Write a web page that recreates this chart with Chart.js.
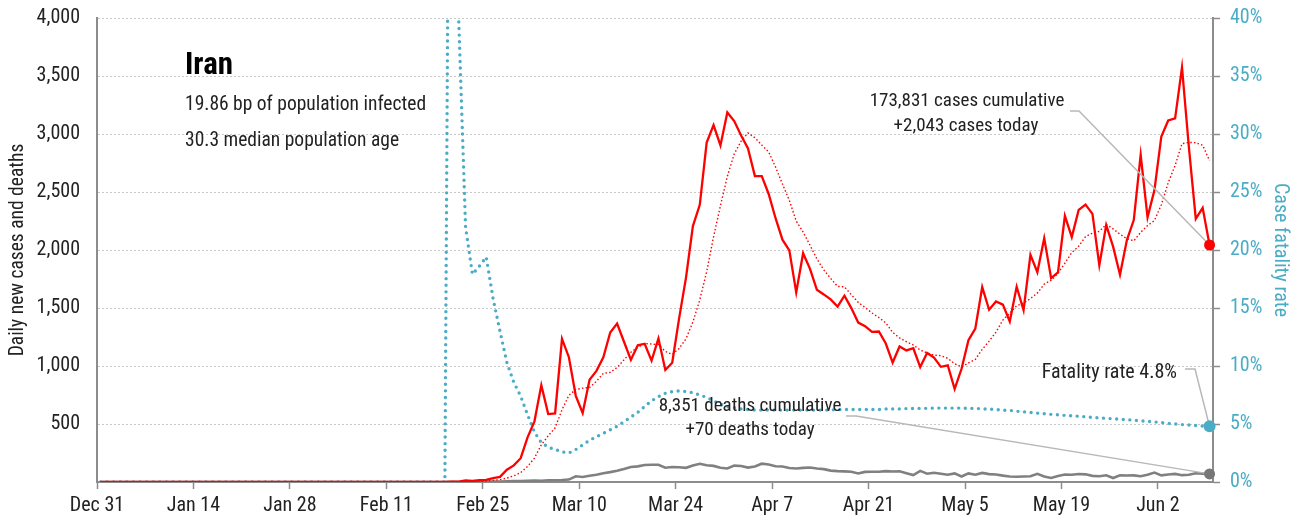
<!DOCTYPE html>
<html>
<head>
<meta charset="utf-8">
<script src="https://cdn.jsdelivr.net/npm/chart.js@4.4.1/dist/chart.umd.min.js"></script>
<style>
  html, body { margin: 0; padding: 0; background: #fff; }
  #wrap { width: 1301px; height: 525px; }
</style>
</head>
<body>
<div id="wrap"><canvas id="chart" width="1301" height="525"></canvas></div>
<script>
const FONT = '"Liberation Sans Narrow", "Roboto Condensed", "DejaVu Sans Condensed", "Arial Narrow", sans-serif';
const RED = '#ff0000';
const GREY = '#808080';
const TEAL = '#4bacc6';
const AXIS = '#8c8c8c';

// one entry per day starting Dec 31
const tickLabels = ['Dec 31', 'Jan 14', 'Jan 28', 'Feb 11', 'Feb 25', 'Mar 10', 'Mar 24', 'Apr 7', 'Apr 21', 'May 5', 'May 19', 'Jun 2'];

const dailyCases = [
  0, 0, 0, 0, 0, 0, 0, 0, 0, 0,
  0, 0, 0, 0, 0, 0, 0, 0, 0, 0,
  0, 0, 0, 0, 0, 0, 0, 0, 0, 0,
  0, 0, 0, 0, 0, 0, 0, 0, 0, 0,
  0, 0, 0, 0, 0, 0, 0, 0, 0, 0,
  0, 2, 3, 13, 10, 15, 18, 34, 44, 106,
  143, 205, 385, 523, 835, 586, 591, 1234, 1076, 743,
  595, 881, 958, 1075, 1289, 1365, 1209, 1053, 1178, 1192,
  1046, 1237, 966, 1028, 1411, 1762, 2206, 2389, 2926, 3076,
  2901, 3186, 3111, 2987, 2875, 2638, 2637, 2483, 2274, 2089,
  1997, 1634, 1972, 1837, 1657, 1617, 1574, 1512, 1606, 1499,
  1374, 1343, 1294, 1297, 1194, 1030, 1168, 1134, 1153, 991,
  1112, 1073, 993, 1006, 802, 976, 1223, 1323, 1680, 1485,
  1556, 1529, 1383, 1683, 1481, 1958, 1808, 2102, 1757, 1806,
  2294, 2111, 2346, 2392, 2311, 1869, 2215, 2029, 1787, 2086,
  2258, 2819, 2282, 2516, 2979, 3117, 3134, 3574, 2886, 2269,
  2364, 2043
];

// trailing 7-day average of new cases
const avgCases = [
  0, 0, 0, 0, 0, 0, 0, 0, 0, 0,
  0, 0, 0, 0, 0, 0, 0, 0, 0, 0,
  0, 0, 0, 0, 0, 0, 0, 0, 0, 0,
  0, 0, 0, 0, 0, 0, 0, 0, 0, 0,
  0, 0, 0, 0, 0, 0, 0, 0, 0, 0,
  0, 0, 1, 3, 4, 6, 9, 14, 20, 34,
  53, 81, 134, 206, 320, 398, 467, 623, 747, 798,
  809, 815, 868, 937, 945, 987, 1053, 1119, 1161, 1194,
  1190, 1183, 1126, 1100, 1151, 1235, 1379, 1571, 1813, 2114,
  2382, 2635, 2828, 2939, 3009, 2968, 2905, 2845, 2715, 2569,
  2428, 2250, 2155, 2041, 1923, 1829, 1755, 1686, 1682, 1615,
  1548, 1504, 1457, 1418, 1372, 1290, 1243, 1209, 1181, 1138,
  1112, 1094, 1089, 1066, 1019, 993, 1026, 1057, 1143, 1214,
  1292, 1396, 1454, 1520, 1542, 1582, 1628, 1706, 1739, 1799,
  1887, 1977, 2032, 2115, 2145, 2161, 2220, 2182, 2136, 2098,
  2079, 2152, 2211, 2254, 2390, 2580, 2729, 2917, 2927, 2925,
  2903, 2770
];

const dailyDeaths = [
  0, 0, 0, 0, 0, 0, 0, 0, 0, 0,
  0, 0, 0, 0, 0, 0, 0, 0, 0, 0,
  0, 0, 0, 0, 0, 0, 0, 0, 0, 0,
  0, 0, 0, 0, 0, 0, 0, 0, 0, 0,
  0, 0, 0, 0, 0, 0, 0, 0, 0, 0,
  0, 2, 0, 2, 1, 3, 4, 4, 3, 7,
  8, 9, 11, 12, 11, 15, 15, 17, 21, 49,
  43, 54, 63, 75, 85, 97, 113, 129, 135, 147,
  149, 149, 123, 129, 127, 122, 143, 157, 144, 139,
  123, 117, 141, 138, 124, 134, 158, 151, 136, 133,
  121, 117, 122, 125, 117, 111, 98, 94, 92, 89,
  73, 87, 88, 88, 94, 90, 93, 76, 60, 96,
  71, 80, 71, 63, 74, 47, 74, 63, 78, 68,
  65, 55, 48, 45, 48, 50, 71, 48, 35, 51,
  65, 62, 69, 66, 53, 50, 58, 34, 57, 56,
  57, 50, 63, 81, 57, 64, 70, 59, 63, 75,
  72, 70
];

// cumulative deaths / cumulative cases, percent
const fatalityRate = [
  0, 0, 0, 0, 0, 0, 0, 0, 0, 0,
  0, 0, 0, 0, 0, 0, 0, 0, 0, 0,
  0, 0, 0, 0, 0, 0, 0, 0, 0, 0,
  0, 0, 0, 0, 0, 0, 0, 0, 0, 0,
  0, 0, 0, 0, 0, 0, 0, 0, 0, 0,
  0, 100, 40, 22, 17.9, 18.6, 19.4, 15.8, 13, 10.3,
  8.6, 7.4, 5.8, 4.3, 3.4, 3.0, 2.8, 2.6, 2.5, 2.8,
  3.2, 3.6, 3.9, 4.2, 4.5, 4.8, 5.2, 5.6, 6.0, 6.5,
  7.0, 7.35, 7.65, 7.8, 7.85, 7.8, 7.7, 7.5, 7.3, 7.0,
  6.7, 6.5, 6.4, 6.3, 6.25, 6.2, 6.2, 6.2, 6.2, 6.2,
  6.2, 6.2, 6.2, 6.2, 6.2, 6.2, 6.2, 6.25, 6.25, 6.25,
  6.25, 6.25, 6.25, 6.25, 6.3, 6.3, 6.3, 6.33, 6.33, 6.35,
  6.35, 6.37, 6.37, 6.37, 6.37, 6.37, 6.35, 6.34, 6.31, 6.28,
  6.24, 6.2, 6.17, 6.1, 6.05, 6.0, 5.94, 5.88, 5.83, 5.79,
  5.74, 5.71, 5.67, 5.62, 5.57, 5.53, 5.49, 5.45, 5.41, 5.37,
  5.33, 5.28, 5.23, 5.18, 5.12, 5.06, 5.0, 4.95, 4.91, 4.87,
  4.83, 4.8
];

const totalCases = 173831;
const totalDeaths = 8351;
const country = 'Iran';
const infoLines = ['19.86 bp of population infected', '30.3 median population age'];

const pts = arr => arr.map((v, i) => ({ x: i, y: v }));
const fmt = n => n.toLocaleString('en-US');

function poly(ctx, list) {
  ctx.beginPath();
  ctx.moveTo(list[0][0], list[0][1]);
  for (let i = 1; i < list.length; i++) ctx.lineTo(list[i][0], list[i][1]);
  ctx.stroke();
}

function dot(ctx, x, y, r, color) {
  ctx.beginPath();
  ctx.arc(x, y, r, 0, Math.PI * 2);
  ctx.fillStyle = color;
  ctx.fill();
}

// keep the plot box fixed: no extra room for half tick labels
function fixVertical(width) {
  return s => { s.width = width; s.paddingTop = 0; s.paddingBottom = 0; };
}

// title block, callouts and end markers
const notes = {
  id: 'notes',
  afterDatasetsDraw(chart) {
    const { ctx, scales: { x, y, y2 } } = chart;
    const last = dailyCases.length - 1;
    const px = x.getPixelForValue(last);
    const caseY = y.getPixelForValue(dailyCases[last]);
    const deathY = y.getPixelForValue(dailyDeaths[last]);
    const rateY = y2.getPixelForValue(fatalityRate[last]);

    ctx.save();
    ctx.strokeStyle = '#b8b8b8';
    ctx.lineWidth = 1.5;
    poly(ctx, [[1070, 111], [1079, 111], [px, caseY]]);
    poly(ctx, [[846, 416], [856, 416], [px, deathY]]);
    poly(ctx, [[1185, 369], [1195, 369], [px, rateY]]);

    dot(ctx, px, caseY, 5.5, RED);
    dot(ctx, px, rateY, 6, TEAL);
    dot(ctx, px, deathY, 5.5, '#777');

    ctx.fillStyle = '#000';
    ctx.textBaseline = 'alphabetic';
    ctx.textAlign = 'left';
    ctx.font = `bold 31px ${FONT}`;
    ctx.fillText(country, 185, 74);
    ctx.fillStyle = '#222';
    ctx.font = `19.5px ${FONT}`;
    ctx.fillText(infoLines[0], 185, 110);
    ctx.fillText(infoLines[1], 185, 146);

    ctx.font = `19px ${FONT}`;
    ctx.textAlign = 'center';
    ctx.fillText(fmt(totalCases) + ' cases cumulative', 967, 106);
    ctx.fillText('+' + fmt(dailyCases[last]) + ' cases today', 966, 131);
    ctx.fillText(fmt(totalDeaths) + ' deaths cumulative', 750, 411);
    ctx.fillText('+' + fmt(dailyDeaths[last]) + ' deaths today', 750, 435);

    ctx.font = `20px ${FONT}`;
    ctx.textAlign = 'right';
    ctx.fillText('Fatality rate ' + fatalityRate[last].toFixed(1) + '%', 1177, 378);
    ctx.restore();
  }
};

new Chart(document.getElementById('chart'), {
  type: 'line',
  data: {
    datasets: [
      { label: 'Daily new cases', data: pts(dailyCases), yAxisID: 'y',
        borderColor: RED, borderWidth: 2.3, pointRadius: 0 },
      { label: '7-day average', data: pts(avgCases), yAxisID: 'y',
        borderColor: RED, borderWidth: 1.4, borderDash: [1.5, 2.2], pointRadius: 0 },
      { label: 'Daily deaths', data: pts(dailyDeaths), yAxisID: 'y',
        borderColor: GREY, borderWidth: 2.6, pointRadius: 0 },
      { label: 'Case fatality rate', data: pts(fatalityRate), yAxisID: 'y2',
        borderColor: TEAL, borderWidth: 3.4, borderDash: [0, 6.6], borderCapStyle: 'round', pointRadius: 0 }
    ]
  },
  options: {
    responsive: false,
    animation: false,
    devicePixelRatio: 1,
    layout: { padding: { top: 18, left: 0, right: 0, bottom: 0 } },
    plugins: { legend: { display: false }, tooltip: { enabled: false } },
    scales: {
      x: {
        type: 'linear', min: -0.5, max: 161.5,
        afterBuildTicks: s => { s.ticks = tickLabels.map((_, k) => ({ value: k * 14 - 0.5 })); },
        ticks: { callback: (v, i) => tickLabels[i], autoSkip: false, maxRotation: 0,
                 font: { family: FONT, size: 20 }, color: '#222', padding: 5 },
        grid: { drawOnChartArea: false, tickLength: 7, tickColor: AXIS, tickWidth: 1.5 },
        border: { color: AXIS, width: 2 },
        afterFit: s => { s.height = 43; }
      },
      y: {
        position: 'left', min: 0, max: 4000,
        ticks: { stepSize: 500, callback: v => v === 0 ? '' : fmt(v),
                 font: { family: FONT, size: 20 }, color: '#222', padding: 17 },
        grid: { color: '#c8c8c8', lineWidth: 1, drawTicks: false },
        border: { color: AXIS, width: 2, dash: [2, 2] },
        title: { display: true, text: 'Daily new cases and deaths', color: '#222',
                 font: { family: FONT, size: 19.5 }, padding: { top: 6, bottom: 0 } },
        afterFit: fixVertical(97)
      },
      y2: {
        position: 'right', min: 0, max: 40,
        ticks: { stepSize: 5, callback: v => v + '%',
                 font: { family: FONT, size: 20 }, color: TEAL, padding: 10 },
        grid: { drawOnChartArea: false, tickLength: 7, tickColor: AXIS, tickWidth: 1.5 },
        border: { color: AXIS, width: 2 },
        title: { display: true, text: 'Case fatality rate', color: TEAL,
                 font: { family: FONT, size: 20 }, padding: { top: 9, bottom: 0 } },
        afterFit: fixVertical(88)
      }
    }
  },
  plugins: [notes]
});
</script>
</body>
</html>
